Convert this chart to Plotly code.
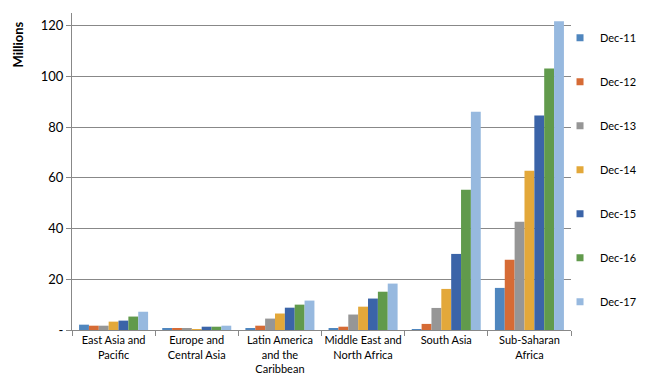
import plotly.graph_objects as go

categories = ["East Asia and<br>Pacific", "Europe and<br>Central Asia", "Latin America<br>and the<br>Caribbean",
              "Middle East and<br>North Africa", "South Asia", "Sub-Saharan<br>Africa"]
series_names = ["Dec-11", "Dec-12", "Dec-13", "Dec-14", "Dec-15", "Dec-16", "Dec-17"]
dec11 = [2.1, 0.4, 0.4, 0.4, 0.3, 16.6]
dec12 = [1.7, 0.4, 1.7, 1.3, 2.4, 27.7]
dec13 = [1.7, 0.4, 4.5, 6.1, 8.7, 42.7]
dec14 = [3.3, 0.3, 6.5, 9.2, 16.2, 62.8]
dec15 = [3.7, 1.3, 8.8, 12.4, 30.0, 84.6]
dec16 = [5.3, 1.3, 10.0, 15.1, 55.3, 103.1]
dec17 = [7.2, 1.7, 11.6, 18.3, 86.1, 121.7]
colors = ["#4F86BE", "#D66B35", "#969696", "#E3A83A", "#3B64A8", "#619A4C", "#97B9DF"]
tick_vals = [0, 20, 40, 60, 80, 100, 120]
tick_text = ["-", "20", "40", "60", "80", "100", "120"]

values = [dec11, dec12, dec13, dec14, dec15, dec16, dec17]

fig = go.Figure()
for name, vals, c in zip(series_names, values, colors):
    fig.add_trace(go.Bar(x=categories, y=vals, name=name, marker=dict(color=c, line=dict(width=0)),
                         showlegend=False))
# legend entries with small square markers
for name, c in zip(series_names, colors):
    fig.add_trace(go.Scatter(x=[None], y=[None], mode="markers", name=name, legendgroup=name,
                             marker=dict(symbol="square", size=7, color=c)))

# page body has an 8px margin, so the figure is sized 8px smaller on each axis
fig.update_layout(
    width=638, height=377,
    margin=dict(l=64, r=75, t=5, b=55, autoexpand=False),
    paper_bgcolor="white", plot_bgcolor="white",
    barmode="group", bargap=0.17, bargroupgap=0,
    font=dict(family="Lato, Open Sans, sans-serif", color="#000000"),
    legend=dict(x=0.978, y=0.968, xanchor="left", yanchor="top", font=dict(size=11),
                tracegroupgap=25, itemwidth=30, bgcolor="rgba(0,0,0,0)"),
    showlegend=True,
)
fig.update_xaxes(showline=True, linecolor="#888888", linewidth=1, ticks="outside", tickson="boundaries",
                 ticklen=5, tickcolor="#888888", tickfont=dict(size=11), showgrid=False,
                 tickangle=0, automargin=False)
fig.update_yaxes(range=[0, 125], tickvals=tick_vals, ticktext=tick_text, showline=True, linecolor="#888888",
                 linewidth=1, ticks="outside", ticklen=5, tickcolor="#888888", showgrid=True,
                 gridcolor="#888888", gridwidth=1, tickfont=dict(size=13), zeroline=False, automargin=False)
fig.add_annotation(text="<b>Millions</b>", xref="paper", yref="paper", x=-0.108, y=0.98,
                   xanchor="center", yanchor="top", textangle=-90, showarrow=False, font=dict(size=13))

fig.write_html("out.html")
